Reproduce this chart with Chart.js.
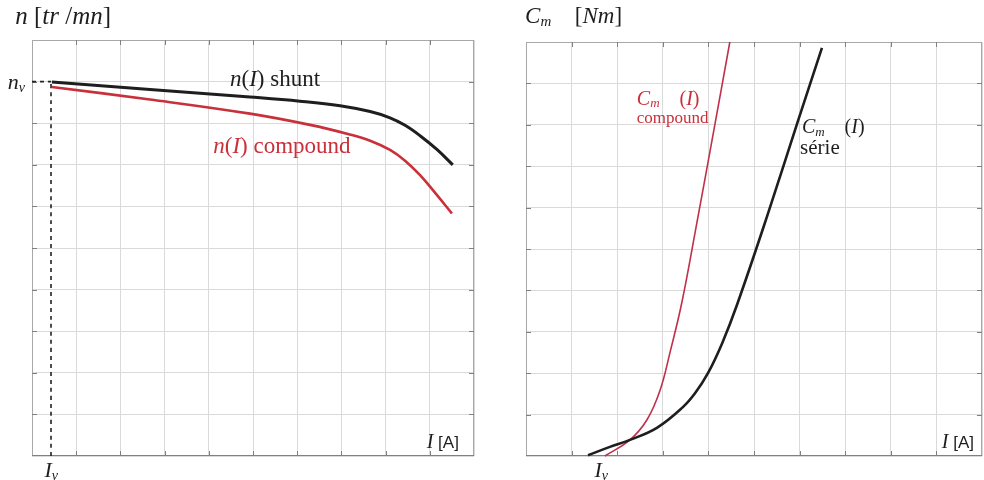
<!DOCTYPE html>
<html>
<head>
<meta charset="utf-8">
<script src="https://cdn.jsdelivr.net/npm/chart.js@4.4.1/dist/chart.umd.min.js"></script>
<style>
  html, body { margin: 0; padding: 0; background: #fff; }
  #wrap { position: relative; width: 984px; height: 480px; }
  .box { position: absolute; top: 0; width: 492px; height: 480px; }
  #left { left: 0; }
  #right { left: 492px; }
</style>
</head>
<body>
<div id="wrap">
  <div class="box" id="left"><canvas id="speed"></canvas></div>
  <div class="box" id="right"><canvas id="torque"></canvas></div>
</div>
<script>
// Values in grid units (the sketch has no numbers, 10 x 10 squares each panel)

/* n(I) */
const shuntI = [0.45, 2.67, 4.93, 6.06, 6.97, 7.65, 8.10, 8.44, 8.78, 9.16, 9.52];
const shuntN = [8.99, 8.81, 8.63, 8.53, 8.42, 8.28, 8.13, 7.95, 7.70, 7.37, 7.00];
const compI  = [0.45, 2.67, 4.93, 6.29, 7.19, 7.65, 8.10, 8.44, 8.78, 9.14, 9.50];
const compN  = [8.87, 8.57, 8.23, 7.96, 7.73, 7.58, 7.36, 7.10, 6.75, 6.30, 5.83];
const Iv = 0.43;   // no-load current
const nv = 9;      // no-load speed

/* Cm(I) */
const serieI  = [1.36, 1.84, 2.28, 2.87, 3.44, 3.71, 3.99, 4.30, 4.63, 5.29, 5.94, 6.49];
const serieC  = [0.02, 0.22, 0.39, 0.68, 1.18, 1.52, 2.00, 2.72, 3.66, 5.80, 8.01, 9.86];
const compCI  = [1.73, 2.28, 2.65, 2.94, 3.16, 3.42, 3.75, 4.10, 4.47];
const compC   = [0.00, 0.39, 0.87, 1.59, 2.51, 3.72, 5.65, 7.75, 10.0];

const gridSteps = [0, 1, 2, 3, 4, 5, 6, 7, 8, 9, 10];

/* helpers */
const pts = (xs, ys) => xs.map((x, i) => ({ x, y: ys[i] }));
const MI = (s) => `italic ${s}px "Liberation Serif"`;
const RM = (s) => `${s}px "Liberation Serif"`;
const SANS = (s) => `${s}px "Liberation Sans"`;
const BLACK = '#1e1e1e';
const RED = '#c8303a';

function rich(ctx, x, y, parts) {
  let cx = x;
  for (const [t, font, dy = 0] of parts) {
    ctx.font = font;
    ctx.fillText(t, cx, y + dy);
    cx += ctx.measureText(t).width;
  }
}

// frame + little inner ticks, under the curves
const frame = {
  id: 'frame',
  beforeDatasetsDraw(chart) {
    const { ctx, chartArea: a, scales: { x, y } } = chart;
    ctx.save();
    ctx.strokeStyle = '#a8a8a8';
    ctx.lineWidth = 1;
    ctx.strokeRect(a.left + .5, a.top + .5, a.width - 1, a.height - 1);
    ctx.strokeStyle = '#808080';
    ctx.beginPath();
    ctx.moveTo(a.left, a.bottom - .5); ctx.lineTo(a.right, a.bottom - .5);
    ctx.stroke();
    ctx.beginPath();
    gridSteps.slice(1, -1).forEach(v => {
      const px = Math.round(x.getPixelForValue(v)) + .5;
      const py = Math.round(y.getPixelForValue(v)) + .5;
      ctx.moveTo(a.left, py); ctx.lineTo(a.left + 5, py);
      ctx.moveTo(a.right, py); ctx.lineTo(a.right - 5, py);
      ctx.moveTo(px, a.top); ctx.lineTo(px, a.top + 5);
      ctx.moveTo(px, a.bottom); ctx.lineTo(px, a.bottom - 5);
    });
    ctx.stroke();
    ctx.restore();
  }
};

// text notes placed in data units
function notes(list) {
  return {
    id: 'notes',
    afterDraw(chart) {
      const { ctx, scales: { x, y } } = chart;
      ctx.save();
      ctx.textBaseline = 'middle';
      list.forEach(n => {
        ctx.fillStyle = n.color || BLACK;
        rich(ctx, x.getPixelForValue(n.x), y.getPixelForValue(n.y), n.parts);
      });
      ctx.restore();
    }
  };
}

function axes() {
  const common = {
    type: 'linear', min: 0, max: 10,
    ticks: { display: false, stepSize: 1 },
    grid: { color: '#dadada', lineWidth: 1, drawTicks: false },
    border: { display: false }
  };
  return { x: { ...common }, y: { ...common } };
}

function lineSet(data, color, width, dash) {
  return {
    data, borderColor: color, borderWidth: width, borderDash: dash || [],
    pointRadius: 0, fill: false, tension: 0.4, clip: false
  };
}

/* left: speed */
new Chart(document.getElementById('speed'), {
  type: 'line',
  data: {
    datasets: [
      lineSet(pts([Iv, Iv], [0, nv]), '#222', 1.6, [4, 4]),
      lineSet(pts([0, Iv], [nv, nv]), '#222', 1.6, [4, 4]),
      lineSet(pts(compI, compN), RED, 2.6),
      lineSet(pts(shuntI, shuntN), BLACK, 3),
    ]
  },
  options: {
    responsive: true, maintainAspectRatio: false, animation: false,
    layout: { padding: { left: 32, right: 18, top: 40, bottom: 24 } },
    scales: axes(),
    plugins: { legend: { display: false }, tooltip: { enabled: false } }
  },
  plugins: [frame, notes([
    { x: -0.38, y: 10.55, parts: [['n', MI(25)], [' [', RM(25)], ['tr', MI(25)], [' /', RM(25)], ['mn', MI(25)], [']', RM(25)]] },
    { x: -0.55, y: 8.97, parts: [['n', MI(22)], ['v', MI(14), 5]] },
    { x: 0.28, y: -0.36, parts: [['I', MI(22)], ['v', MI(14), 5]] },
    { x: 4.48, y: 9.04, parts: [['n', MI(23)], ['(', RM(23)], ['I', MI(23)], [')', RM(23)], [' shunt', RM(23)]] },
    { x: 4.10, y: 7.43, color: RED, parts: [['n', MI(23)], ['(', RM(23)], ['I', MI(23)], [')', RM(23)], [' compound', RM(23)]] },
    { x: 8.93, y: 0.31, parts: [['I', MI(20)], [' [A]', SANS(17)]] },
  ])]
});

/* right: torque */
new Chart(document.getElementById('torque'), {
  type: 'line',
  data: {
    datasets: [
      lineSet(pts(serieI, serieC), BLACK, 2.6),
      lineSet(pts(compCI, compC), '#c0304a', 1.6),
    ]
  },
  options: {
    responsive: true, maintainAspectRatio: false, animation: false,
    layout: { padding: { left: 34, right: 2, top: 42, bottom: 24 } },
    scales: axes(),
    plugins: { legend: { display: false }, tooltip: { enabled: false } }
  },
  plugins: [frame, notes([
    { x: -0.02, y: 10.6, parts: [['C', MI(23)], ['m', MI(15), 5]] },
    { x: 1.07, y: 10.6, parts: [['[', RM(23)], ['Nm', MI(23)], [']', RM(23)]] },
    { x: 1.50, y: -0.36, parts: [['I', MI(22)], ['v', MI(14), 5]] },
    { x: 2.43, y: 8.6, color: RED, parts: [['C', MI(20)], ['m', MI(13), 4], ['    (', RM(20)], ['I', MI(20)], [')', RM(20)]] },
    { x: 2.43, y: 8.16, color: RED, parts: [['compound', RM(17)]] },
    { x: 6.05, y: 7.92, parts: [['C', MI(20)], ['m', MI(13), 4], ['    (', RM(20)], ['I', MI(20)], [')', RM(20)]] },
    { x: 6.01, y: 7.42, parts: [['série', RM(21)]] },
    { x: 9.12, y: 0.31, parts: [['I', MI(20)], [' [A]', SANS(17)]] },
  ])]
});
</script>
</body>
</html>
